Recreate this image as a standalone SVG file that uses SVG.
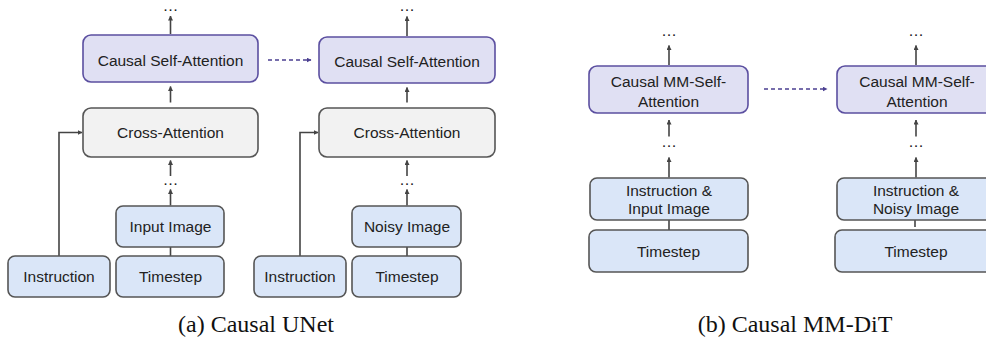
<svg xmlns="http://www.w3.org/2000/svg" width="986" height="341" viewBox="0 0 986 341">
<defs>
<marker id="ah" viewBox="0 0 10 10" refX="9" refY="5" markerWidth="5" markerHeight="5" orient="auto" markerUnits="userSpaceOnUse"><path d="M0,0 L10,5 L0,10 z" fill="#444"/></marker>
<marker id="ahp" viewBox="0 0 10 10" refX="9" refY="5" markerWidth="5" markerHeight="5" orient="auto" markerUnits="userSpaceOnUse"><path d="M0,0 L10,5 L0,10 z" fill="#4b3f91"/></marker>
<style>
.sa{fill:#e0e0f3;stroke:#5b4fa0;stroke-width:1.6}
.ca{fill:#f2f2f2;stroke:#555;stroke-width:1.6}
.bl{fill:#dae6f8;stroke:#555;stroke-width:1.6}
.t{font-family:"Liberation Sans",Arial,sans-serif;font-size:15.5px;fill:#222;text-anchor:middle}
.d{font-family:"Liberation Sans",Arial,sans-serif;font-size:11px;font-weight:bold;letter-spacing:2px;fill:#222;text-anchor:middle}
.cap{font-family:"Liberation Serif","Times New Roman",serif;font-size:24px;fill:#111;text-anchor:middle}
.ar{stroke:#444;stroke-width:1.6;fill:none;marker-end:url(#ah)}
.ln{stroke:#444;stroke-width:1.6;fill:none}
.ds{stroke:#4b3f91;stroke-width:1.5;fill:none;stroke-dasharray:4 3;marker-end:url(#ahp)}
</style>
</defs>
<rect width="986" height="341" fill="#fff"/>

<g id="connectors">
<line class="ar" x1="170.5" y1="34" x2="170.5" y2="16"/>
<line class="ar" x1="170.5" y1="102.5" x2="170.5" y2="86.5"/>
<line class="ar" x1="170.5" y1="176" x2="170.5" y2="160.5"/>
<line class="ar" x1="170.5" y1="205.5" x2="170.5" y2="189.5"/>
<line class="ln" x1="170.5" y1="247" x2="170.5" y2="256"/>
<polyline class="ar" points="59,256 59,132.5 82,132.5"/>
<line class="ds" x1="268" y1="60" x2="311" y2="60"/>

<line class="ar" x1="407" y1="36" x2="407" y2="16.5"/>
<line class="ar" x1="407" y1="102.5" x2="407" y2="87.5"/>
<line class="ar" x1="407" y1="176" x2="407" y2="160.5"/>
<line class="ar" x1="407" y1="205.5" x2="407" y2="189.5"/>
<line class="ln" x1="407" y1="247" x2="407" y2="256"/>
<polyline class="ar" points="300,256 300,132.5 318,132.5"/>

<line class="ar" x1="669" y1="65" x2="669" y2="45.5"/>
<line class="ar" x1="669" y1="136.5" x2="669" y2="120"/>
<line class="ar" x1="669" y1="177.5" x2="669" y2="157.5"/>
<line class="ln" x1="669" y1="220" x2="669" y2="230"/>
<line class="ds" x1="764" y1="89" x2="827" y2="89"/>

<line class="ar" x1="916" y1="65" x2="916" y2="45.5"/>
<line class="ar" x1="916" y1="136.5" x2="916" y2="120"/>
<line class="ar" x1="916" y1="177.5" x2="916" y2="157.5"/>
<line class="ln" x1="915" y1="220" x2="915" y2="227"/>
</g>

<g id="dots">
<text class="d" x="171.5" y="10.5">...</text>
<text class="d" x="171.5" y="185">...</text>
<text class="d" x="408" y="11">...</text>
<text class="d" x="408" y="185">...</text>
<text class="d" x="670" y="35.5">...</text>
<text class="d" x="670" y="147">...</text>
<text class="d" x="917" y="35.5">...</text>
<text class="d" x="917" y="147">...</text>
</g>

<g id="csa1"><rect class="sa" x="83" y="35" width="175" height="47" rx="8"/><text class="t" x="170.5" y="66">Causal Self-Attention</text></g>
<g id="ca1"><rect class="ca" x="83" y="108" width="175" height="49" rx="8"/><text class="t" x="170.5" y="138">Cross-Attention</text></g>
<g id="input1"><rect class="bl" x="116" y="206" width="108" height="41" rx="7"/><text class="t" x="170.5" y="231.5">Input Image</text></g>
<g id="time1"><rect class="bl" x="116" y="256" width="108" height="41" rx="7"/><text class="t" x="170.5" y="281.5">Timestep</text></g>
<g id="instr1"><rect class="bl" x="8" y="256" width="102" height="41" rx="7"/><text class="t" x="59" y="281.5">Instruction</text></g>

<g id="csa2"><rect class="sa" x="319" y="37" width="176" height="46" rx="8"/><text class="t" x="407" y="67">Causal Self-Attention</text></g>
<g id="ca2"><rect class="ca" x="319" y="108" width="176" height="49" rx="8"/><text class="t" x="407" y="138">Cross-Attention</text></g>
<g id="noisy2"><rect class="bl" x="352" y="206" width="109" height="41" rx="7"/><text class="t" x="407" y="231.5">Noisy Image</text></g>
<g id="time2"><rect class="bl" x="352" y="256" width="109" height="41" rx="7"/><text class="t" x="407" y="281.5">Timestep</text></g>
<g id="instr2"><rect class="bl" x="254" y="256" width="92" height="41" rx="7"/><text class="t" x="300" y="281.5">Instruction</text></g>

<g id="mmsa1"><rect class="sa" x="589" y="66" width="159" height="47" rx="8"/><text class="t" x="668.5" y="87">Causal MM-Self-</text><text class="t" x="668.5" y="106.5">Attention</text></g>
<g id="ii1"><rect class="bl" x="590" y="178" width="158" height="42" rx="7"/><text class="t" x="669" y="196">Instruction &amp;</text><text class="t" x="669" y="213.5">Input Image</text></g>
<g id="mmtime1"><rect class="bl" x="589" y="230" width="159" height="42" rx="7"/><text class="t" x="668.5" y="257">Timestep</text></g>

<g id="mmsa2"><rect class="sa" x="837" y="66" width="160" height="47" rx="8"/><text class="t" x="917" y="87">Causal MM-Self-</text><text class="t" x="917" y="106.5">Attention</text></g>
<g id="in2"><rect class="bl" x="837" y="178" width="160" height="42" rx="7"/><text class="t" x="916" y="196">Instruction &amp;</text><text class="t" x="916" y="213.5">Noisy Image</text></g>
<g id="mmtime2"><rect class="bl" x="835" y="230" width="162" height="42" rx="7"/><text class="t" x="916" y="257">Timestep</text></g>

<text class="cap" x="256" y="332">(a) Causal UNet</text>
<text class="cap" x="795" y="332">(b) Causal MM-DiT</text>
</svg>
